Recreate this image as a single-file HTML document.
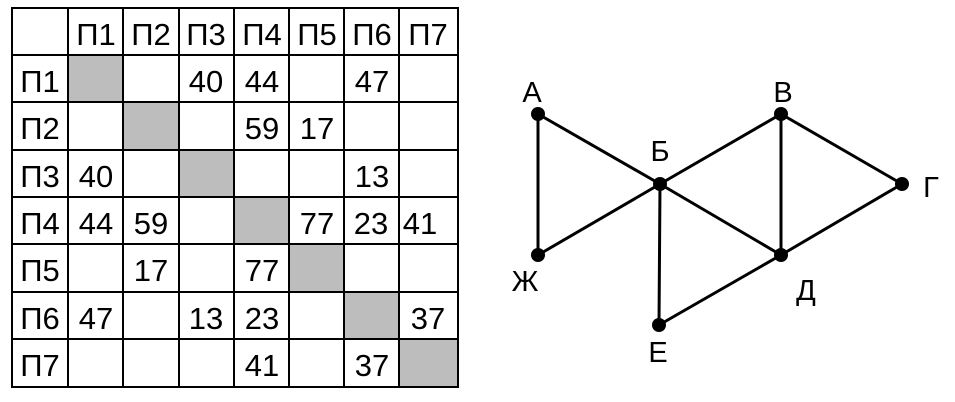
<!DOCTYPE html>
<html><head><meta charset="utf-8"><style>
html,body{margin:0;padding:0;background:#fff;}
svg{display:block;}
text{font-family:"Liberation Sans","DejaVu Sans",sans-serif;fill:#000;}
</style></head><body>
<svg width="955" height="402" viewBox="0 0 955 402" xmlns="http://www.w3.org/2000/svg">
<g fill="#bdbdbd">
<rect x="68" y="55" width="55" height="47"/>
<rect x="123" y="102" width="56" height="48"/>
<rect x="179" y="150" width="55" height="47"/>
<rect x="234" y="197" width="55" height="47"/>
<rect x="289" y="244" width="55" height="48"/>
<rect x="344" y="292" width="55" height="47"/>
<rect x="399" y="339" width="59" height="48"/>
</g>
<g stroke="#000" stroke-width="2" fill="none">
<rect x="12" y="8" width="446" height="379"/>
<line x1="68" y1="8" x2="68" y2="387"/>
<line x1="123" y1="8" x2="123" y2="387"/>
<line x1="179" y1="8" x2="179" y2="387"/>
<line x1="234" y1="8" x2="234" y2="387"/>
<line x1="289" y1="8" x2="289" y2="387"/>
<line x1="344" y1="8" x2="344" y2="387"/>
<line x1="399" y1="8" x2="399" y2="387"/>
<line x1="12" y1="55" x2="458" y2="55"/>
<line x1="12" y1="102" x2="458" y2="102"/>
<line x1="12" y1="150" x2="458" y2="150"/>
<line x1="12" y1="197" x2="458" y2="197"/>
<line x1="12" y1="244" x2="458" y2="244"/>
<line x1="12" y1="292" x2="458" y2="292"/>
<line x1="12" y1="339" x2="458" y2="339"/>
</g>
<g font-size="31" text-anchor="middle">
<text x="96" y="45">П1</text><text x="151" y="45">П2</text><text x="206" y="45">П3</text><text x="262" y="45">П4</text><text x="317" y="45">П5</text><text x="372" y="45">П6</text><text x="428" y="45">П7</text>
<text x="40" y="92">П1</text><text x="40" y="139">П2</text><text x="40" y="187">П3</text><text x="40" y="234">П4</text><text x="40" y="281">П5</text><text x="40" y="329">П6</text><text x="40" y="376">П7</text>
<text x="206" y="92">40</text><text x="262" y="92">44</text><text x="372" y="92">47</text>
<text x="262" y="139">59</text><text x="317" y="139">17</text>
<text x="96" y="187">40</text><text x="372" y="187">13</text>
<text x="96" y="234">44</text><text x="151" y="234">59</text><text x="317" y="234">77</text><text x="371" y="234">23</text><text x="420" y="234">41</text>
<text x="151" y="281">17</text><text x="262" y="281">77</text>
<text x="96" y="329">47</text><text x="206" y="329">13</text><text x="262" y="329">23</text><text x="428" y="329">37</text>
<text x="262" y="376">41</text><text x="372" y="376">37</text>
</g>
<g stroke="#000" stroke-width="3">
<line x1="538" y1="114" x2="660" y2="184"/>
<line x1="538" y1="114" x2="538" y2="255"/>
<line x1="538" y1="255" x2="660" y2="184"/>
<line x1="660" y1="184" x2="781" y2="114"/>
<line x1="660" y1="184" x2="781" y2="255"/>
<line x1="660" y1="184" x2="659" y2="325"/>
<line x1="781" y1="114" x2="781" y2="255"/>
<line x1="781" y1="114" x2="902" y2="184"/>
<line x1="902" y1="184" x2="781" y2="255"/>
<line x1="781" y1="255" x2="659" y2="325"/>
</g>
<g fill="#000">
<circle cx="538" cy="114" r="7"/><circle cx="660" cy="184" r="7"/><circle cx="781" cy="114" r="7"/>
<circle cx="902" cy="184" r="7"/><circle cx="781" cy="255" r="7"/><circle cx="538" cy="255" r="7"/>
<circle cx="659" cy="325" r="7"/>
</g>
<g font-size="29" text-anchor="middle">
<text x="532" y="102">А</text>
<text x="660" y="161">Б</text>
<text x="783" y="102">В</text>
<text x="931" y="197">Г</text>
<text x="806" y="300">Д</text>
<text x="525" y="291">Ж</text>
<text x="658" y="362">Е</text>
</g>
</svg>
</body></html>
